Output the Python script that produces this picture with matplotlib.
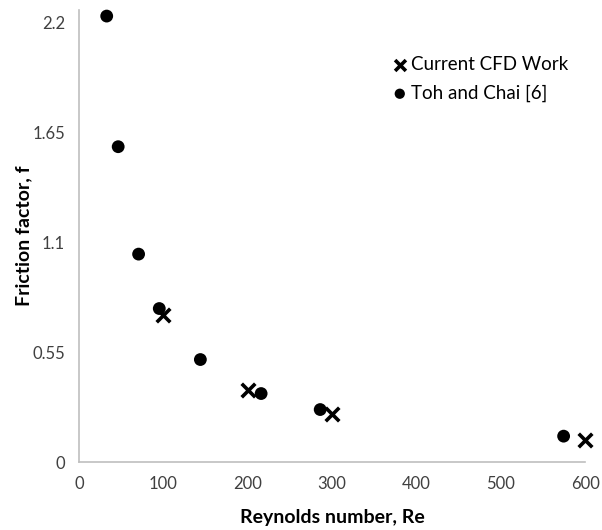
import matplotlib
matplotlib.use("Agg")
import matplotlib.pyplot as plt

# Data
cfd_re = [100, 200, 300, 600]
cfd_f = [0.735, 0.363, 0.24, 0.113]
toh_re = [33, 46.6, 70.8, 95.3, 144, 216, 286, 574.5]
toh_f = [2.23, 1.577, 1.04, 0.768, 0.513, 0.343, 0.263, 0.13]
xticks = [0, 100, 200, 300, 400, 500, 600]
yticks = [0, 0.55, 1.1, 1.65, 2.2]
ytick_labels = ["0", "0.55", "1.1", "1.65", "2.2"]

plt.rcParams['font.family'] = ['Lato', 'DejaVu Sans']

fig = plt.figure(figsize=(6.02, 5.30), dpi=100)
ax = fig.add_axes([0.131, 0.128, 0.841, 0.853])

ax.scatter(cfd_re, cfd_f, marker='x', s=95, linewidths=2.6, color='black',
           label='Current CFD Work', zorder=3, clip_on=False)
ax.scatter(toh_re, toh_f, marker='o', s=85, color='black', edgecolors='none',
           label='Toh and Chai [6]', zorder=3, clip_on=False)

ax.set_xlim(0, 600)
ax.set_ylim(0, 2.26)
ax.set_xticks(xticks)
ax.set_yticks(yticks)
ax.set_yticklabels(ytick_labels)
ax.tick_params(length=0, labelsize=12, labelcolor='#404040', pad=10)
for s in ['top', 'right']:
    ax.spines[s].set_visible(False)
for s in ['left', 'bottom']:
    ax.spines[s].set_color('#BFBFBF')
    ax.spines[s].set_linewidth(1.2)

ax.set_xlabel('Reynolds number, Re', fontsize=14, fontweight='bold', labelpad=12)
ax.set_ylabel('Friction factor, f', fontsize=14, fontweight='bold', labelpad=0)

leg = ax.legend(loc='upper right', bbox_to_anchor=(1.0, 0.935), frameon=False,
                fontsize=13.5, handletextpad=0.0, labelspacing=0.6, markerscale=0.8,
                handlelength=1.2)

fig.savefig('out.png', dpi=100)
